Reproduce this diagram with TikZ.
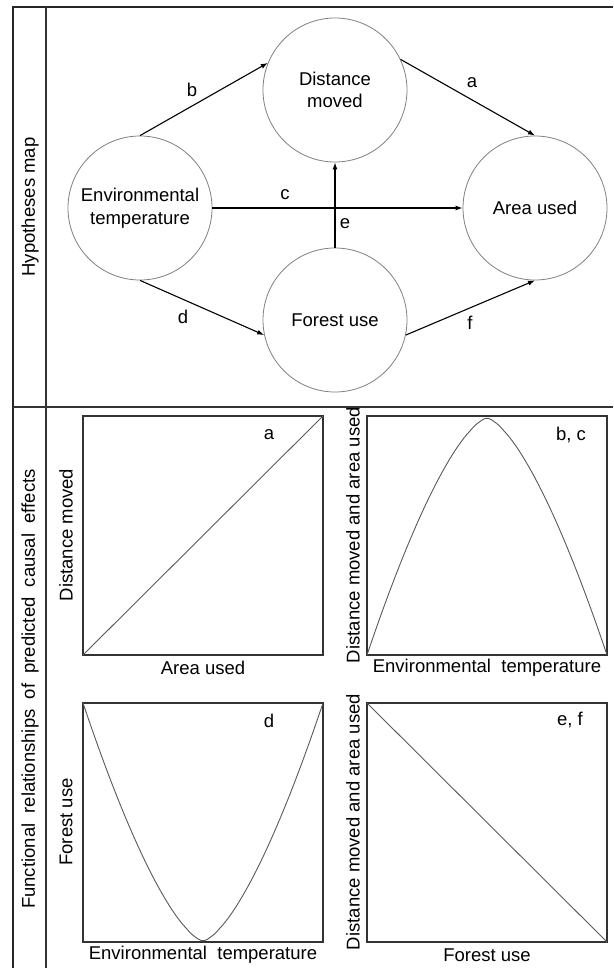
\documentclass[tikz,border=0pt]{standalone}
\usepackage{fontspec}
\setmainfont{Liberation Sans}
\usetikzlibrary{arrows.meta}

\tikzset{
	var/.style={draw=black!50, line width=0.8pt, circle, minimum size=144pt, inner sep=0pt, align=center},
	link/.style={-{Latex[length=7pt,width=5pt]}, line width=1.1pt},
	plotbox/.style={draw=black!80, line width=1.2pt},
	plotline/.style={draw=black!65, line width=0.9pt},
}

\begin{document}
\begin{tikzpicture}[x=1pt, y=-1pt, font=\fontsize{18.5}{22.5}\selectfont]
	\useasboundingbox (0,0) rectangle (613,968);
	% frame of the figure
	\draw[line width=2pt, black!85] (613,7) -- (13,7) -- (13,968);
	\draw[line width=1.3pt, black!80] (46,7) -- (46,968);
	\draw[line width=1.3pt, black!80] (13,407) -- (613,407);
	\node (hyp)  at (30,207) [rotate=90] {Hypotheses map};
	\node (func) at (30,689) [rotate=90] {Functional\ \ relationships\ \ of\ \ predicted\ \ causal\ \ effects};

	% hypotheses map
	\node (dist)   at (335,90)  [var] {Distance\\moved};
	\node (env)    at (140,208) [var] {Environmental\\temperature};
	\node (area)   at (535,208) [var] {Area used};
	\node (forest) at (335,320) [var] {Forest use};
	% Draw the hypothesised paths
	\draw[link] (dist.25) -- (area.north);
	\draw[link] (env.north) -- (dist.158);
	\draw[link] (env.east) -- (area.west);
	\draw[link] (env.south) -- (forest.192);
	\draw[link] (forest.north) -- (dist.south);
	\draw[link] (forest.-12) -- (area.south);
	\node (pa) at (472,83)  {a};
	\node (pb) at (192,90)  {b};
	\node (pc) at (285,195) {c};
	\node (pd) at (183,317) {d};
	\node (pe) at (345,224) {e};
	\node (pf) at (470,323) {f};

	% predicted functional relationships
	\draw[plotbox] (83,416) rectangle (323,655);
	\draw[plotline] (83,655) -- (323,416);
	\node (ta) at (269,435) {a};
	\node (xa) at (203,668) {Area used};
	\node (ya) at (66,535) [rotate=90] {Distance moved};

	\draw[plotbox] (367,416) rectangle (607,655);
	\draw[plotline] plot[domain=0:1, samples=80] ({367+240*\x}, {655-237*(1-pow(abs(2*\x-1),1.5))});
	\node (tb) at (571,435) {b, c};
	\node (xb) at (487,668) {Environmental\ \ temperature};
	\node (yb) at (353,535) [rotate=90] {Distance moved and area used};

	\draw[plotbox] (83,703) rectangle (323,942);
	\draw[plotline] plot[domain=0:1, samples=80] ({83+240*\x}, {703+238*(1-pow(abs(2*\x-1),1.5))});
	\node (td) at (269,721) {d};
	\node (xd) at (203,955) {Environmental\ \ temperature};
	\node (yd) at (66,822) [rotate=90] {Forest use};

	\draw[plotbox] (367,703) rectangle (607,942);
	\draw[plotline] (367,703) -- (607,942);
	\node (te) at (570,720) {e, f};
	\node (xe) at (487,955) {Forest use};
	\node (ye) at (353,822) [rotate=90] {Distance moved and area used};
\end{tikzpicture}
\end{document}
